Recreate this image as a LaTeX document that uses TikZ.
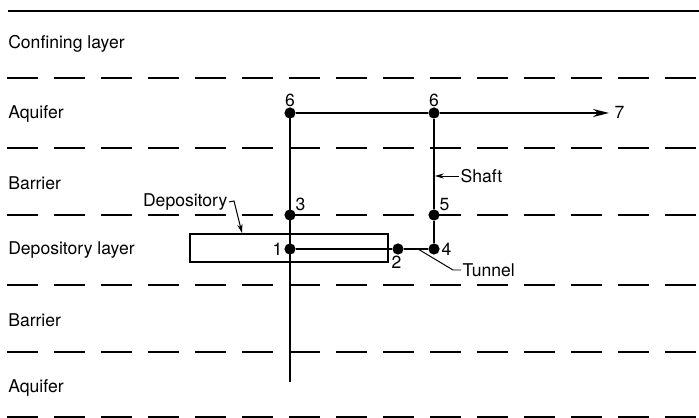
\documentclass[tikz,border=0pt]{standalone}
\usepackage{fontspec}
\setmainfont{TeX Gyre Heros}
\usetikzlibrary{arrows.meta,positioning}

\begin{document}
\begin{tikzpicture}[x=0.025cm,y=-0.025cm,font=\fontsize{12.5}{14}\selectfont,
  layer/.style={anchor=west,inner sep=0pt},
  pt/.style={circle,fill=black,inner sep=0pt,minimum size=2.8mm},
  num/.style={inner sep=1pt,font=\fontsize{12.5}{14}\selectfont},
  flow/.style={line width=1.3pt},
  bound/.style={line width=1.1pt,dash pattern=on 0.775cm off 0.4cm},
  lead/.style={line width=0.7pt},
  tip/.style={-{Stealth[length=2.2mm,width=1.3mm]},line width=0.7pt}]
\useasboundingbox (0,0) rectangle (699,418);
% strata
\draw[line width=1.4pt] (8,11) -- (699,11);
\foreach \y in {78,148,215,285,352,417} \draw[bound] (7,\y) -- (699,\y);
\node[layer] (lConf) at (8,44) {Confining layer};
\node[layer] (lAq1) at (8,114) {Aquifer};
\node[layer] (lBar1) at (8,183) {Barrier};
\node[layer] (lDep) at (8,250) {Depository layer};
\node[layer] (lBar2) at (8,320) {Barrier};
\node[layer] (lAq2) at (8,388) {Aquifer};
% depository
\node[draw,line width=1pt,minimum width=4.95cm,minimum height=0.7cm,inner sep=0pt] (dep) at (289,248) {};
% path points
\node[pt] (p6a) at (290,113) {};
\node[pt] (p6b) at (434,113) {};
\node[pt] (p3) at (290,215) {};
\node[pt] (p1) at (290,249) {};
\node[pt] (p2) at (398,249) {};
\node[pt] (p4) at (434,249) {};
\node[pt] (p5) at (434,215) {};
\coordinate (pend) at (290,382);
\coordinate (p7) at (609,113);
\draw[flow] (p6a.center) -- (pend);
\draw[flow] (p6a) -- (p6b);
\draw[flow,-{Stealth[length=4mm,width=2mm]}] (p6b) -- (p7);
\draw[flow] (p6b) -- (p5) -- (p4);
\draw[flow] (p1) -- (p2) -- (p4);
\node[num,above=-1pt of p6a] {6};
\node[num,above=-1pt of p6b] {6};
\node[num,anchor=west] at (613,112) {7};
\node[num,anchor=south west] at (294,212) {3};
\node[num,anchor=east] at (p1.west) {1};
\node[num,anchor=north west] at (390,254) {2};
\node[num,anchor=west] at (p4.east) {4};
\node[num,anchor=south west] at (438,212) {5};
% labels
\node[anchor=east,inner sep=1pt] (tDep) at (229,202) {Depository};
\coordinate (dHook) at (234,201);
\draw[tip] (tDep.east) -- (dHook) -- (242,233);
\node[anchor=west,inner sep=1pt] (tShaft) at (459,176) {Shaft};
\draw[tip] (tShaft.west) -- (435,176);
\node[anchor=west,inner sep=1pt] (tTun) at (461,270) {Tunnel};
\coordinate (tBend) at (453,270);
\draw[lead] (tTun.west) -- (tBend) -- (418,249);
\end{tikzpicture}
\end{document}
